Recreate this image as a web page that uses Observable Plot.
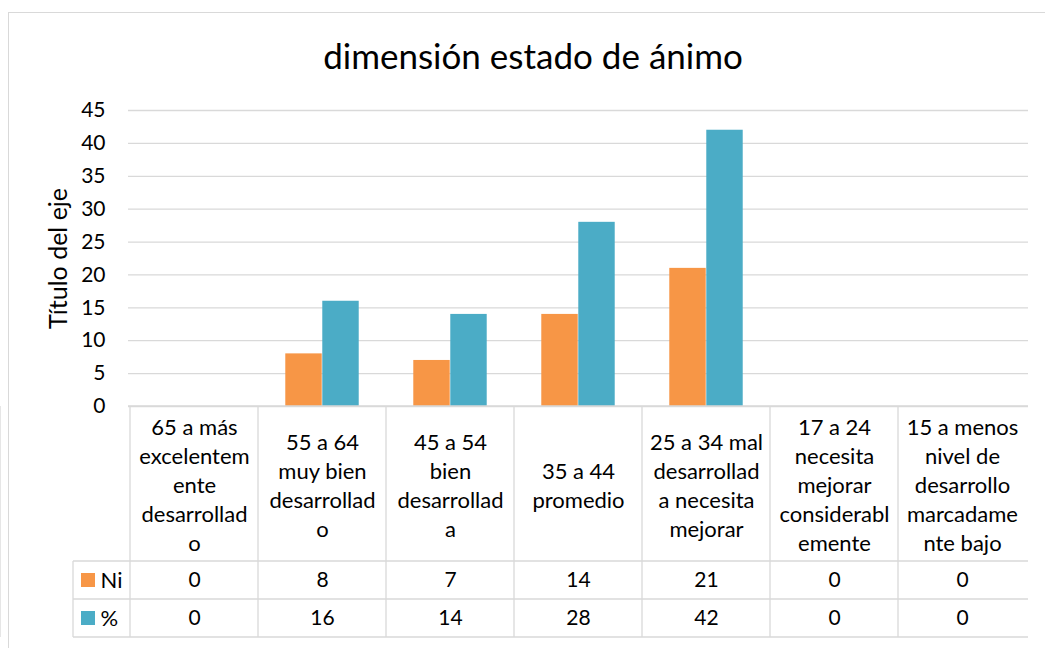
<!DOCTYPE html>
<html>
<head>
<meta charset="utf-8">
<script src="https://cdn.jsdelivr.net/npm/d3@7"></script>
<script src="https://cdn.jsdelivr.net/npm/@observablehq/plot@0.6"></script>
<style>
  html, body { margin: 0; padding: 0; background: #fff; overflow: hidden; }
  #wrap { position: relative; width: 1045px; height: 648px; }
  #box { position: absolute; left: 8px; top: 12px; width: 1060px; height: 700px; border: 1px solid #d9d9d9; box-sizing: border-box; }
  #chart { position: absolute; left: 0; top: 0; }
</style>
</head>
<body>
<div id="wrap"><div id="box"></div><div id="chart"></div></div>
<script>
const title = "dimensión estado de ánimo";
const yTitle = "Título del eje";
const categories = [
  "65 a más\nexcelentem\nente\ndesarrollad\no",
  "55 a 64\nmuy bien\ndesarrollad\no",
  "45 a 54\nbien\ndesarrollad\na",
  "35 a 44\npromedio",
  "25 a 34 mal\ndesarrollad\na necesita\nmejorar",
  "17 a 24\nnecesita\nmejorar\nconsiderabl\nemente",
  "15 a menos\nnivel de\ndesarrollo\nmarcadame\nnte bajo"
];
const seriesNames = ["Ni", "%"];
const seriesColors = ["#F79646", "#4BACC6"];
const niValues = [0, 8, 7, 14, 21, 0, 0];
const pctValues = [0, 16, 14, 28, 42, 0, 0];
const yTicks = [0, 5, 10, 15, 20, 25, 30, 35, 40, 45];

const W = 1045, H = 648;
const mL = 128, mR = 17, mT = 110, mB = 242;
const band = (W - mL - mR) / categories.length;
const barW = 37;
const FONT = "Lato, 'Open Sans', sans-serif";
const FS = 22;   // label text
const NS = 21;   // numbers
const gridColor = "#d9d9d9";

const niData = categories.map((c, i) => ({cat: c, value: niValues[i]}));
const pctData = categories.map((c, i) => ({cat: c, value: pctValues[i]}));
const rows = [niValues, pctValues];
const rowCenters = [174, 212]; // offsets below baseline
const tableBottom = 231;
const rowTop = 155;
const legendLeft = 73;

function tableGrid(index, scales, values, dims) {
  const g = d3.create("svg:g").attr("stroke", gridColor).attr("stroke-width", 1.3).attr("fill", "none");
  const y0 = dims.height - dims.marginBottom;
  const x0 = dims.marginLeft, x1 = dims.width - dims.marginRight;
  const bw = scales.x.bandwidth ?? band;
  const xs = categories.map(c => scales.x(c)).concat([scales.x(categories[categories.length - 1]) + bw]);
  xs.forEach(x => g.append("line").attr("x1", x).attr("x2", x).attr("y1", y0).attr("y2", y0 + tableBottom));
  g.append("line").attr("x1", legendLeft).attr("x2", legendLeft).attr("y1", y0 + rowTop).attr("y2", y0 + tableBottom);
  [rowTop, rowTop + 38, tableBottom].forEach(dy => g.append("line").attr("x1", legendLeft).attr("x2", x1).attr("y1", y0 + dy).attr("y2", y0 + dy));
  g.append("line").attr("x1", x0).attr("x2", x1).attr("y1", y0).attr("y2", y0);
  seriesColors.forEach((col, i) => {
    g.append("rect").attr("x", 81).attr("y", y0 + rowCenters[i] - 7).attr("width", 14).attr("height", 14).attr("fill", col).attr("stroke", "none");
  });
  return g.node();
}

const chart = Plot.plot({
  width: W, height: H,
  marginLeft: mL, marginRight: mR, marginTop: mT, marginBottom: mB,
  style: {fontFamily: FONT, fontSize: FS + "px", color: "#000", background: "transparent"},
  x: {domain: categories, padding: 0, axis: null, label: null},
  y: {domain: [0, 45], axis: null, label: null},
  marks: [
    Plot.gridY(yTicks, {stroke: gridColor, strokeOpacity: 1, strokeWidth: 1.3}),
    Plot.axisY(yTicks, {tickSize: 0, tickPadding: 23, fontSize: NS, fill: "#000", label: null}),
    Plot.barY(niData, {x: "cat", y: "value", fill: seriesColors[0], insetLeft: band / 2 - barW, insetRight: band / 2}),
    Plot.barY(pctData, {x: "cat", y: "value", fill: seriesColors[1], insetLeft: band / 2, insetRight: band / 2 - barW}),
    tableGrid,
    Plot.text(categories, {x: d => d, text: d => d, frameAnchor: "bottom", lineAnchor: "middle", dy: 77.5, lineHeight: 29 / FS, fontSize: FS, fill: "#000"}),
    ...rows.map((vals, r) => Plot.text(categories, {x: d => d, text: (d, i) => String(vals[i]), frameAnchor: "bottom", lineAnchor: "middle", dy: rowCenters[r], fontSize: NS, fill: "#000"})),
    ...seriesNames.map((name, r) => Plot.text([name], {frameAnchor: "bottom-left", lineAnchor: "middle", textAnchor: "start", dx: -28, dy: rowCenters[r], fontSize: FS, fill: "#000"})),
    Plot.text([yTitle], {frameAnchor: "left", textAnchor: "middle", lineAnchor: "middle", dx: -70, rotate: -90, fontSize: 25, fill: "#000"}),
    Plot.text([title], {frameAnchor: "top", textAnchor: "middle", lineAnchor: "middle", dx: -45.5, dy: -53, fontSize: 35, fill: "#000"})
  ]
});
document.getElementById("chart").appendChild(chart);
</script>
</body>
</html>
